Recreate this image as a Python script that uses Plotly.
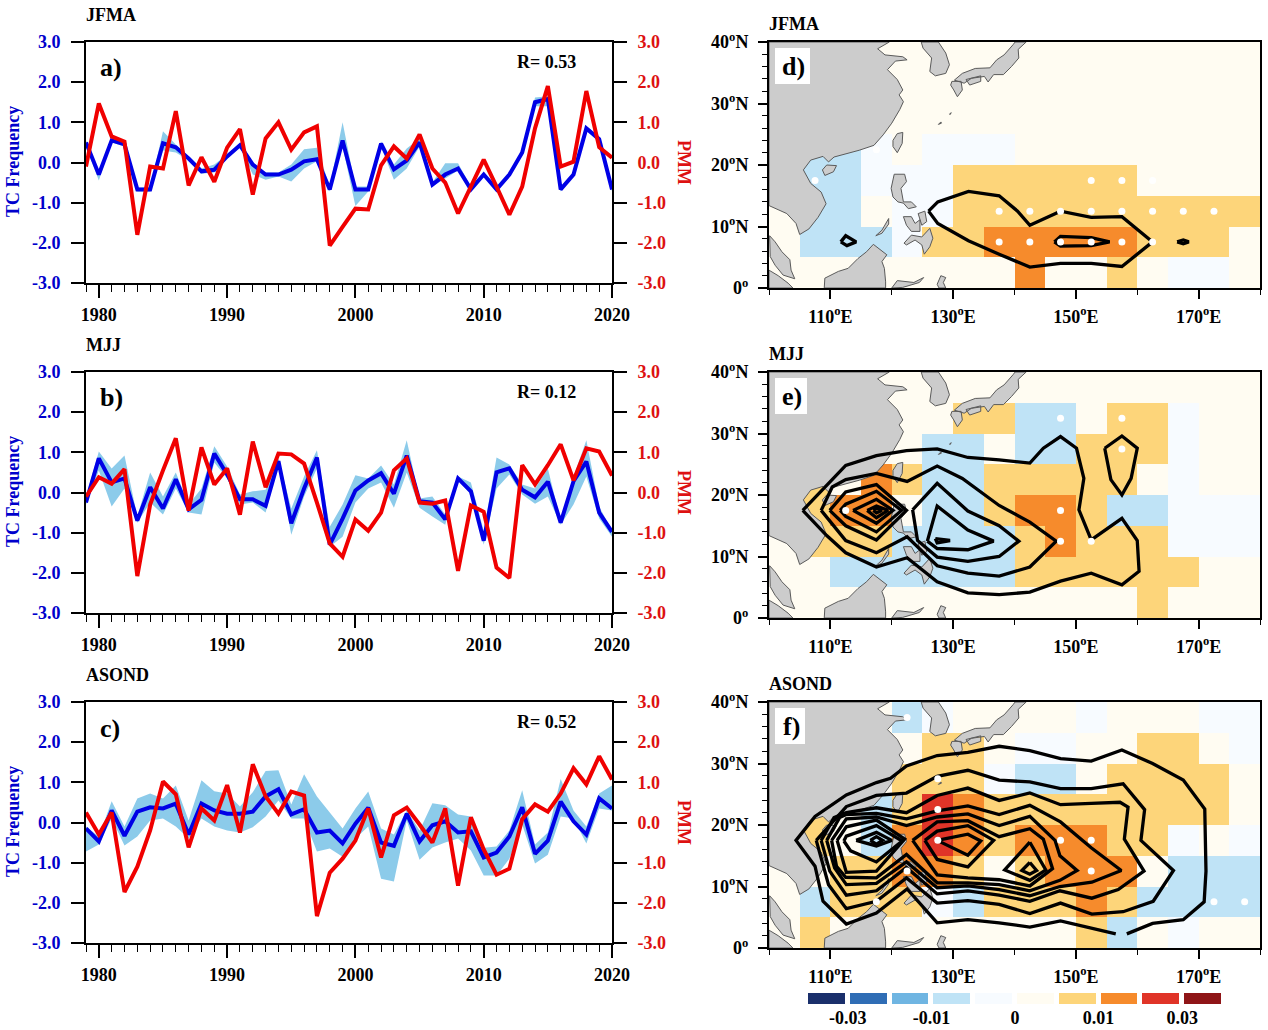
import plotly.graph_objects as go

W = 1268
H = 1030
FONT = "Liberation Serif"
BLUE_TXT = "#0000cc"
RED_TXT = "#dd1111"

YEARS = list(range(1979, 2021))
Y_TICKS = [-3, -2, -1, 0, 1, 2, 3]
Y_LABELS = ["-3.0", "-2.0", "-1.0", "0.0", "1.0", "2.0", "3.0"]
X_TICKS = [1980, 1990, 2000, 2010, 2020]

# time series
TC_A = [0.5, -0.3, 0.55, 0.45, -0.67, -0.67, 0.48, 0.38, 0.1, -0.22, -0.18, 0.15, 0.43, -0.05, -0.3, -0.3, -0.18, 0.03, 0.08, -0.67, 0.55,
        -0.67, -0.67, 0.47, -0.17, 0.05, 0.5, -0.55, -0.3, -0.15, -0.67, -0.3, -0.67, -0.3, 0.25, 1.5, 1.58, -0.67, -0.3, 0.85, 0.58, -0.67]
PMM_A = [-0.1, 1.47, 0.65, 0.52, -1.8, -0.1, -0.15, 1.28, -0.57, 0.13, -0.48, 0.37, 0.83, -0.8, 0.6, 1.0, 0.32, 0.75, 0.9, -2.07, -1.6,
         -1.15, -1.17, -0.07, 0.4, 0.1, 0.7, -0.15, -0.5, -1.27, -0.6, 0.07, -0.6, -1.3, -0.6, 0.85, 1.9, -0.1, 0.02, 1.78, 0.38, 0.12]
UPPER_A = [0.55, -0.2, 0.62, 0.5, -0.62, -0.62, 0.78, 0.45, 0.15, -0.15, -0.05, 0.2, 0.48, 0.0, -0.25, -0.25, -0.05, 0.33, 0.37, -0.6, 1.0,
           -0.6, -0.6, 0.52, -0.05, 0.35, 0.6, -0.5, -0.02, -0.02, -0.6, -0.25, -0.6, -0.25, 0.3, 1.62, 1.65, -0.6, -0.25, 0.9, 0.65, -0.6]
LOWER_A = [0.4, -0.45, 0.5, 0.4, -0.72, -0.72, 0.3, 0.25, 0.05, -0.28, -0.25, 0.1, 0.38, -0.3, -0.43, -0.35, -0.47, -0.15, 0.03, -0.72, 0.4,
           -1.08, -0.72, 0.4, -0.43, -0.15, 0.4, -0.6, -0.4, -0.2, -0.72, -0.35, -0.72, -0.35, 0.2, 1.4, 1.4, -0.72, -0.35, 0.8, 0.5, -0.72]

TC_B = [-0.25, 0.85, 0.25, 0.35, -0.7, 0.13, -0.4, 0.33, -0.42, -0.18, 0.97, 0.45, -0.17, -0.17, -0.33, 0.78, -0.77, 0.1, 0.87, -1.3, -0.65,
        0.05, 0.3, 0.48, -0.03, 0.92, -0.22, -0.25, -0.67, 0.35, 0.03, -1.2, 0.5, 0.6, 0.07, -0.12, 0.27, -0.75, 0.28, 0.77, -0.5, -0.98]
PMM_B = [-0.1, 0.38, 0.22, 0.58, -2.08, -0.3, 0.55, 1.35, -0.45, 1.12, 0.2, 0.6, -0.55, 1.27, 0.13, 0.97, 0.95, 0.72, -0.25, -1.27, -1.6,
         -0.67, -0.95, -0.5, 0.55, 0.85, -0.25, -0.28, -0.2, -1.95, -0.32, -0.48, -1.87, -2.13, 0.68, 0.2, 0.68, 1.2, 0.3, 1.1, 1.02, 0.42]
UPPER_B = [-0.1, 1.02, 0.6, 0.92, -0.6, 0.5, -0.1, 0.5, -0.3, 0.1, 1.15, 0.65, -0.05, 0.03, 0.07, 0.85, -0.4, 0.4, 1.05, -0.85, -0.3,
           0.43, 0.35, 0.67, 0.2, 1.3, -0.15, -0.1, -0.55, 0.4, 0.25, -0.95, 0.87, 0.7, 0.2, 0.1, 0.6, -0.7, 0.4, 1.3, -0.35, -0.95]
LOWER_B = [-0.3, 0.55, -0.35, 0.1, -0.75, -0.25, -0.55, 0.1, -0.5, -0.55, 0.75, 0.35, -0.3, -0.25, -0.5, 0.7, -1.05, -0.1, 0.6, -1.35, -1.1,
           -0.25, 0.1, 0.25, -0.38, 0.5, -0.38, -0.6, -0.8, 0.3, -0.05, -1.3, 0.1, 0.45, -0.05, -0.28, -0.1, -0.8, -0.3, 0.4, -0.65, -1.1]

TC_C = [-0.15, -0.47, 0.3, -0.33, 0.27, 0.38, 0.35, 0.47, -0.3, 0.47, 0.3, 0.22, 0.22, 0.27, 0.65, 0.83, 0.2, 0.33, -0.25, -0.2, -0.52,
        -0.03, 0.37, -0.5, -0.58, 0.22, -0.47, -0.07, 0.03, -0.25, -0.22, -0.87, -0.75, -0.35, 0.38, -0.78, -0.45, 0.52, 0.03, -0.3, 0.6, 0.35]
PMM_C = [0.25, -0.3, 0.25, -1.73, -1.1, -0.2, 1.02, 0.7, -0.62, 0.35, 0.05, 0.93, -0.25, 1.45, 0.65, 0.22, 0.77, 0.67, -2.33, -1.25, -0.9,
         -0.45, 0.35, -0.87, 0.18, 0.37, -0.05, -0.5, 0.35, -1.57, 0.13, -0.67, -1.3, -1.15, 0.08, 0.45, 0.27, 0.72, 1.35, 0.95, 1.65, 1.07]
UPPER_C = [-0.1, -0.35, 0.53, -0.1, 0.6, 0.72, 0.6, 0.92, 0.05, 1.05, 0.78, 0.72, 0.4, 0.75, 1.28, 1.3, 0.45, 1.2, 0.65, 0.25, -0.15,
           0.35, 0.77, -0.15, -0.3, 0.3, -0.2, 0.48, 0.43, 0.2, 0.15, -0.63, -0.6, -0.2, 0.8, -0.55, -0.25, 1.08, 0.3, -0.1, 0.72, 0.92]
LOWER_C = [-0.72, -0.55, 0.1, -0.57, -0.35, 0.05, 0.1, -0.1, -0.4, 0.1, -0.1, -0.2, -0.25, -0.12, 0.15, 0.55, 0.1, 0.1, -0.72, -0.65, -0.85,
           -0.4, -0.1, -1.4, -1.47, 0.05, -0.93, -0.62, -0.5, -0.4, -0.7, -1.32, -1.32, -0.9, -0.05, -1.02, -0.8, 0.15, 0.1, -0.52, 0.35, 0.3]

# map cells, 5 degree boxes
LONS = [102.5 + 5 * i for i in range(16)]
LATS = [2.5 + 5 * i for i in range(8)]

I = 0.0025
P = -0.0025
L = -0.0075
Y = 0.0075
O = 0.015
R = 0.025

CELLS_D = [
    [I, I, I, I, I, I, I, I, O, I, I, Y, I, P, P, I],
    [I, L, L, L, P, Y, Y, O, O, O, O, O, Y, Y, Y, I],
    [I, L, L, I, P, P, Y, Y, Y, Y, Y, Y, Y, Y, Y, Y],
    [I, L, L, P, P, P, Y, Y, Y, Y, Y, Y, I, I, I, I],
    [I, L, L, P, I, P, P, P, I, I, I, I, I, I, I, I],
    [I, I, I, I, I, I, I, I, I, I, I, I, I, I, I, I],
    [I, I, I, I, I, I, I, I, I, I, I, I, I, I, I, I],
    [I, I, I, I, I, I, I, I, I, I, I, I, I, I, I, I],
]
CELLS_E = [
    [I, I, I, I, I, I, I, I, I, I, I, I, Y, I, I, I],
    [I, I, L, L, L, L, L, L, Y, Y, Y, Y, Y, Y, I, I],
    [I, Y, Y, Y, L, L, L, L, Y, O, Y, Y, Y, P, P, P],
    [I, Y, O, O, I, L, L, Y, O, O, Y, L, L, P, P, P],
    [I, Y, I, O, Y, L, L, Y, Y, Y, Y, Y, I, P, I, I],
    [I, I, I, I, I, L, L, I, L, L, Y, Y, Y, P, I, I],
    [I, I, I, I, I, I, Y, Y, L, L, I, Y, Y, P, I, I],
    [I, I, I, I, I, I, I, I, I, I, I, I, I, I, I, I],
]
CELLS_F = [
    [I, Y, I, I, I, I, I, I, I, I, Y, L, I, P, I, I],
    [I, L, Y, Y, Y, P, L, Y, Y, Y, O, Y, L, L, L, L],
    [I, I, Y, Y, O, O, Y, I, Y, O, O, O, I, L, L, L],
    [I, Y, I, L, O, R, O, Y, O, O, O, Y, Y, P, I, P],
    [I, Y, I, L, Y, R, O, Y, Y, Y, Y, Y, Y, Y, Y, I],
    [I, I, I, I, Y, Y, Y, P, L, L, I, Y, Y, Y, Y, I],
    [I, I, I, I, I, Y, Y, I, P, P, I, I, Y, Y, I, P],
    [I, I, I, I, L, P, I, I, I, I, P, I, I, I, P, P],
]

LEVEL_BOUNDS = [-0.04, -0.03, -0.02, -0.01, -0.005, 0, 0.005, 0.01, 0.02, 0.03, 0.04]
LEVEL_COLORS = ["#1a2f6b", "#2f6db5", "#6fb5e2", "#bfe3f6", "#f7fbff", "#fffcf2", "#fdd57a", "#f68b2c", "#e03428", "#8f1517"]
LEVEL_VALUES = [-0.035, -0.025, -0.015, -0.0075, -0.0025, 0.0025, 0.0075, 0.015, 0.025, 0.035]
BAR_LABELS = ["-0.03", "-0.01", "0", "0.01", "0.03"]

# significant boxes
DOTS_D = [(107.5, 17.5), (152.5, 17.5), (157.5, 17.5), (162.5, 17.5), (117.5, 22.5),
          (137.5, 12.5), (142.5, 12.5), (147.5, 12.5), (152.5, 12.5), (157.5, 12.5), (162.5, 12.5), (167.5, 12.5), (172.5, 12.5),
          (137.5, 7.5), (142.5, 7.5), (147.5, 7.5), (152.5, 7.5), (157.5, 7.5), (162.5, 7.5)]
DOTS_E = [(147.5, 32.5), (157.5, 32.5), (157.5, 27.5), (147.5, 17.5), (147.5, 12.5), (152.5, 12.5), (112.5, 17.5)]
DOTS_F = [(122.5, 37.5), (127.5, 27.5), (127.5, 22.5), (127.5, 17.5), (147.5, 17.5), (152.5, 17.5), (152.5, 12.5),
          (122.5, 12.5), (117.5, 7.5), (172.5, 7.5), (177.5, 7.5)]

# contour lines as lon, lat vertices
CONTOURS_D = [
    [(126, 12.5), (127.5, 14), (132.5, 15.7), (137.5, 15), (140.5, 12.5), (142.5, 10.2), (147.5, 12.5), (152.5, 11.5), (157.5, 11.6),
     (162.5, 7.5), (157.5, 3.5), (152.5, 4), (147.5, 4), (142.5, 3.4), (137.5, 5.5), (132.5, 7.7), (127.5, 10.5), (126, 12.5)],
    [(146.5, 7.5), (147.5, 8.4), (152.5, 8.2), (155.5, 7.5), (152.5, 6.9), (147.5, 6.8), (146.5, 7.5)],
    [(111.7, 7.5), (112.5, 8.5), (114.2, 7.5), (112.7, 6.9), (111.7, 7.5)],
    [(166.5, 7.5), (167.5, 7.8), (168.4, 7.5), (167.5, 7.2), (166.5, 7.5)],
]
CONTOURS_E = [
    [(105.5, 17.5), (109.4, 21.6), (112.5, 24.8), (117.5, 26.4), (122.4, 27.2), (127.4, 27.5), (132.4, 26.1), (137.5, 25.7), (142.5, 25.2),
     (144.7, 27.6), (147.5, 29.5), (150.1, 27.6), (151.3, 22.7), (150.5, 17.6), (152.5, 12.7), (157.5, 16.2), (160, 12.6), (160.3, 7.6),
     (157.5, 5.4), (152.5, 7.3), (147.5, 6), (142.5, 4.2), (137.5, 3.8), (132.4, 4.1), (127.4, 5.9), (122.5, 9.8), (117.5, 8.3),
     (112.5, 10.6), (109.4, 13.4), (105.5, 17.5)],
    [(108.5, 17.5), (110.3, 21.3), (112.5, 22.5), (117.5, 23.5), (122.5, 22.2), (127.4, 24.7), (131.5, 22.7), (137.5, 18.3), (142.5, 15.6),
     (146.8, 12.5), (142.5, 8.3), (140, 7.5), (137.5, 6.8), (132.4, 7.3), (127.4, 8.5), (122.5, 13.2), (117.5, 10.6), (112.5, 12.6), (108.5, 17.5)],
    [(123.4, 17.6), (127.4, 21.9), (132.4, 17.4), (137.5, 15), (140.7, 12.5), (137.5, 10), (132.4, 9.2), (127.4, 9.9), (124.2, 12.6), (123.4, 17.6)],
    [(125.8, 12.5), (127.4, 18.2), (132.4, 14.3), (136.6, 12.5), (132.4, 11.1), (127.4, 11.3), (125.8, 12.5)],
    [(127.1, 12.9), (129.5, 12.6), (127.4, 12.2), (127.1, 12.9)],
    [(109.9, 17.5), (112.5, 20.5), (117.5, 21.7), (122.4, 17.5), (117.5, 12.7), (112.5, 15), (109.9, 17.5)],
    [(111.6, 17.5), (112.5, 18.5), (117.5, 20.6), (121.6, 17.5), (117.5, 14), (112.5, 16.5), (111.6, 17.5)],
    [(113.7, 17.5), (117.5, 19.3), (120.2, 17.5), (117.5, 15.4), (113.7, 17.5)],
    [(116, 17.5), (117.5, 18.2), (119.4, 17.5), (117.5, 16.3), (116, 17.5)],
    [(117, 17.5), (117.5, 17.8), (118.4, 17.5), (117.5, 17.1), (117, 17.5)],
    [(154.7, 27.6), (157.5, 29.6), (160, 27.6), (159, 22.7), (157.5, 20), (155.7, 22.5), (154.7, 27.6)],
]
CONTOURS_F = [
    [(158.3, 2.3), (162.5, 4), (167.5, 4.6), (170.9, 7.5), (171.2, 12.5), (171, 22.6), (167.5, 27.3), (162.5, 30), (157.5, 32.2), (152.5, 30.4),
     (147.5, 30.8), (142.5, 32.1), (137.5, 32.8), (132.4, 31.8), (127.4, 31.3), (122.4, 29.6), (119.8, 27.6), (117.5, 26.9), (112.6, 24.9),
     (107.5, 21.4), (104.4, 17.5), (107.5, 13.3), (108.8, 7.6), (112.6, 3.9), (117.5, 5.7), (122.5, 9.6), (127.4, 4.1), (132.4, 4.6), (137.5, 4.1),
     (142.5, 3.4), (147.5, 4.4), (152.5, 3.2), (156.5, 2.3)],
    [(107.7, 17.5), (112.6, 23), (117.5, 24.8), (122.4, 25.2), (127.4, 27.9), (132.4, 28.9), (137.5, 27.3), (142.5, 27), (147.5, 25.9), (152.5, 25.9),
     (157.7, 26.7), (161.2, 22.5), (160.6, 17.5), (165.9, 12.6), (162.6, 7.6), (157.7, 5.9), (152.6, 5.5), (147.5, 7.3), (142.5, 5.6), (137.5, 7.1),
     (132.4, 7.7), (127.4, 7.3), (122.4, 11.4), (117.5, 7.6), (112.6, 6.4), (109.7, 10.3), (107.7, 17.5)],
    [(108.5, 17.5), (110.6, 21.2), (112.6, 22), (117.5, 22.8), (122.4, 22), (127.4, 24.8), (132.4, 26), (137.5, 24), (142.5, 25.2), (147.5, 23.3),
     (152.5, 23.5), (157.2, 23.7), (158.5, 22.9), (157.9, 17.7), (161.1, 12.5), (156.9, 9.5), (152.6, 8.1), (147.4, 9.3), (142.5, 7.6), (137.5, 8.6),
     (132.4, 9.3), (127.4, 8.8), (122.4, 13.1), (117.5, 9.3), (112.6, 8.6), (109.9, 12.5), (108.5, 17.5)],
    [(109.4, 17.5), (111.5, 21.2), (112.6, 21.7), (117.5, 21.9), (122.4, 21), (127.4, 22.3), (132.4, 23.1), (137.5, 21.7), (142.5, 23.2), (147.5, 20.5),
     (152.5, 16.3), (157.4, 12.6), (152.6, 10.7), (147.4, 10), (142.5, 8.5), (137.5, 9.5), (132.4, 10.1), (127.4, 9.8), (122.4, 14), (117.5, 10.5),
     (112.6, 10.3), (110.7, 13), (109.4, 17.5)],
    [(110.2, 17.5), (112.6, 21), (117.5, 21.3), (122.4, 19.9), (127.4, 21.3), (132.4, 21.8), (137.5, 19.9), (142.5, 21.4), (146.6, 17.5), (147.4, 15),
     (150.2, 12.6), (147.4, 11), (142.5, 9.3), (137.5, 10.3), (132.4, 10.6), (127.4, 10.6), (122.4, 15.2), (117.5, 11.4), (112.5, 11.5), (111, 13.3),
     (110.2, 17.5)],
    [(123.4, 17.5), (127.4, 20.5), (132.4, 20.7), (137.5, 18.1), (142.5, 19.4), (144.7, 17.7), (146.2, 12.9), (142.5, 10.1), (137.5, 11.1), (132.4, 11.4),
     (127.4, 11.9), (123.4, 17.5)],
    [(125.4, 17.5), (127.4, 19), (132.4, 19.9), (136.6, 17.5), (132.4, 13.2), (127.4, 14.4), (125.4, 17.5)],
    [(127.4, 17.5), (132.4, 18.5), (134.5, 17.4), (132.4, 15.1), (127.4, 17.5)],
    [(142.5, 17.2), (138.4, 12.7), (142.5, 11), (145.1, 12.7), (142.5, 17.2)],
    [(142.5, 13.9), (141.2, 12.6), (142.5, 12), (143.6, 12.6), (142.5, 13.9)],
    [(111.1, 17.5), (112.6, 19.7), (117.5, 20.8), (122.1, 17.7), (117.5, 12.5), (112.6, 12.3), (111.1, 17.5)],
    [(112.2, 17.4), (112.6, 18.2), (117.5, 19.9), (121.7, 17.4), (117.5, 14), (113.3, 15.8), (112.2, 17.4)],
    [(114.2, 17.5), (117.5, 18.8), (120, 17.5), (117.5, 16.6), (114.2, 17.5)],
    [(116.5, 17.5), (117.5, 18.1), (118.5, 17.5), (117.5, 16.9), (116.5, 17.5)],
]

# rough coastlines
LAND = [
    [(100, 40), (119.6, 40), (117.7, 38.9), (118.9, 37.9), (121.8, 37.6), (122.5, 37.1), (120.6, 36.9), (119.3, 35.5), (120.9, 33.9), (121.8, 32.2),
     (121.2, 31.4), (121.9, 30.3), (121.3, 29), (120, 26.8), (118.6, 24.9), (117.1, 23.2), (114.7, 22.4), (113, 21.9), (110.6, 21.3), (109.7, 20.5),
     (108.8, 21.4), (106.8, 20.8), (105.6, 19.2), (106.8, 17), (108.5, 15.6), (109.3, 13.7), (108, 11.5), (106.5, 9.6), (105, 8.7), (104.4, 10.5),
     (102.9, 12.1), (100, 13.4), (100, 40)],
    [(100.1, 8.5), (101, 7.5), (102.1, 5.9), (103.4, 4.6), (103.6, 2.9), (104.2, 1.5), (102.3, 2.1), (101, 3.7), (100.2, 5.1), (100.1, 8.5)],
    [(100, 2.9), (101.5, 2), (103.1, 0.8), (103.9, 0), (100, 0), (100, 2.9)],
    [(109, 0), (109.1, 1.6), (111.3, 2.7), (112.9, 3.2), (114.5, 4.8), (115.9, 5.9), (117, 7.1), (118.1, 6.2), (119.2, 5.4), (118.4, 4.3), (118.8, 3.2),
     (119, 1), (119, 0), (109, 0)],
    [(108.7, 19.2), (109.4, 20), (111, 19.9), (110.5, 18.9), (109.1, 18.3), (108.7, 19.2)],
    [(117.4, 8.5), (118.4, 9.4), (119.5, 11.3), (119.5, 10.4), (118.4, 8.9), (117.4, 8.5)],
    [(120.4, 18.5), (122.1, 18.5), (122.4, 17.3), (121.5, 16.2), (121.9, 14), (123.2, 14), (124, 13.2), (122.7, 12.9), (121.9, 13.8), (121, 14),
     (120.2, 14.8), (119.9, 16.2), (120.4, 18.5)],
    [(121.9, 11.6), (123.2, 11.6), (123.8, 10.5), (124.6, 11.1), (124.6, 9.2), (123.2, 9.2), (122.4, 10.2), (121.9, 11.6)],
    [(124.3, 12.1), (125.4, 12.5), (125.7, 10.8), (124.9, 10.2), (124.3, 12.1)],
    [(122, 7.3), (123.2, 8.6), (124.9, 8.3), (126.2, 9.7), (126.7, 8.1), (126.2, 6.7), (125.3, 5.5), (124.9, 7), (123.8, 7.8), (122.4, 7), (122, 7.3)],
    [(120, 0), (120.9, 1.2), (123.6, 0.9), (125.2, 1.7), (124.5, 0.9), (121.8, 0.1), (120, 0)],
    [(127.4, 0.6), (128, 2), (128.8, 1.7), (128.4, 0.9), (128.8, 0), (127.7, 0), (127.4, 0.6)],
    [(120.9, 25.1), (121.8, 25.3), (121.7, 23.5), (120.9, 22), (120.2, 23), (120.2, 24), (120.9, 25.1)],
    [(124.8, 40), (125.1, 39), (126.5, 37.4), (126.2, 35.2), (127.1, 34.5), (128.8, 34.9), (129.4, 36.3), (128.8, 38.2), (127.6, 40), (124.8, 40)],
    [(141.9, 40), (140.6, 38.8), (140.7, 37.4), (139.5, 36), (138.2, 34.7), (136.6, 34.7), (135.7, 33.5), (135.1, 34.4), (133, 34.1), (131.8, 33.3),
     (130.2, 33.8), (131.5, 34.9), (133.6, 35.7), (136, 35.8), (137.1, 37.1), (138.3, 37.9), (139.8, 39.6), (140.1, 40), (141.9, 40)],
    [(129.8, 33.6), (131.3, 33.6), (131.5, 32.2), (130.7, 31.1), (130.1, 32.2), (129.6, 33), (129.8, 33.6)],
    [(132.1, 33.9), (134.5, 34.5), (134.5, 33.6), (132.7, 33), (132.1, 33.9)],
    [(127.6, 26.6), (128, 27), (128.1, 26.8), (127.6, 26.6)],
    [(129.4, 28.3), (129.7, 28.5), (129.5, 28.2), (129.4, 28.3)],
]


def xdom(left, right):
    return [left / W, right / W]


def ydom(top, bottom):
    return [1 - bottom / H, 1 - top / H]


def join_paths(paths):
    xs = []
    ys = []
    for path in paths:
        xs += [p[0] for p in path] + [None]
        ys += [p[1] for p in path] + [None]
    return xs, ys


def note(text, x, y, size=18, color="black", anchor="left", angle=0):
    fig.add_annotation(text=f"<b>{text}</b>", x=x / W, y=1 - y / H, xref="paper", yref="paper", showarrow=False,
                       xanchor=anchor, yanchor="middle", textangle=angle, font=dict(family=FONT, size=size, color=color))


def level_scale():
    scale = []
    for i, col in enumerate(LEVEL_COLORS):
        scale.append([(LEVEL_BOUNDS[i] + 0.04) / 0.08, col])
        scale.append([(LEVEL_BOUNDS[i + 1] + 0.04) / 0.08, col])
    return scale


def add_series(n, top, title, letter, r_text, tc, pmm, upper, lower):
    xa = f"x{n}"
    ya = f"y{2 * n - 1}"
    yb = f"y{2 * n}"
    fig.add_trace(go.Scatter(x=YEARS + YEARS[::-1], y=upper + lower[::-1], fill="toself", fillcolor="#8ccbea", mode="none",
                             xaxis=xa, yaxis=ya))
    fig.add_trace(go.Scatter(x=YEARS, y=tc, mode="lines", line=dict(color="#0000e6", width=4), xaxis=xa, yaxis=ya))
    fig.add_trace(go.Scatter(x=YEARS, y=pmm, mode="lines", line=dict(color="#f00000", width=4), xaxis=xa, yaxis=yb))

    bottom = top + 241
    fig.update_layout({
        f"xaxis{n}": dict(domain=xdom(86, 612), range=[1979, 2020], anchor=ya, tickvals=X_TICKS, ticks="outside", ticklen=13, tickwidth=2,
                          tickcolor="black", showline=True, linecolor="black", linewidth=2, mirror=True, showgrid=False, zeroline=False,
                          ticklabelstandoff=1, tickfont=dict(family=FONT, size=18, color="black", weight="bold"),
                          minor=dict(dtick=1, tick0=1979, ticks="outside", ticklen=7, tickwidth=1, tickcolor="black", showgrid=False)),
        f"yaxis{2 * n - 1}": dict(domain=ydom(top, bottom), range=[-3, 3], anchor=xa, tickvals=Y_TICKS, ticktext=Y_LABELS, ticks="outside",
                                  ticklen=13, tickwidth=2, tickcolor="black", showline=True, linecolor="black", linewidth=2, showgrid=False,
                                  zeroline=False, ticklabelstandoff=7, tickfont=dict(family=FONT, size=18, color=BLUE_TXT, weight="bold")),
        f"yaxis{2 * n}": dict(overlaying=ya, side="right", range=[-3, 3], anchor=xa, tickvals=Y_TICKS, ticktext=Y_LABELS, ticks="outside",
                              ticklen=13, tickwidth=2, tickcolor="black", showline=True, linecolor="black", linewidth=2, showgrid=False,
                              zeroline=False, ticklabelstandoff=7, tickfont=dict(family=FONT, size=18, color=RED_TXT, weight="bold")),
    })
    note(title, 84, top - 27)
    note(letter, 98, top + 26, size=26)
    note(r_text, 515, top + 20)
    note("TC Frequency", 13, top + 120, color=BLUE_TXT, anchor="center", angle=-90)
    note("PMM", 684, top + 120, color=RED_TXT, anchor="center", angle=90)


def add_map(n, yn, top, title, letter, box_w, cells, paths, dots):
    xa = f"x{n}"
    ya = f"y{yn}"
    fig.add_trace(go.Heatmap(x=LONS, y=LATS, z=cells, colorscale=level_scale(), zmin=-0.04, zmax=0.04, showscale=False, xaxis=xa, yaxis=ya))
    land_x, land_y = join_paths(LAND)
    fig.add_trace(go.Scatter(x=land_x, y=land_y, mode="lines", fill="toself", fillcolor="#cccccc", line=dict(color="#5a5a5a", width=1),
                             xaxis=xa, yaxis=ya))
    line_x, line_y = join_paths(paths)
    fig.add_trace(go.Scatter(x=line_x, y=line_y, mode="lines", line=dict(color="black", width=3.3), xaxis=xa, yaxis=ya))
    fig.add_trace(go.Scatter(x=[d[0] for d in dots], y=[d[1] for d in dots], mode="markers", marker=dict(color="white", size=7),
                             xaxis=xa, yaxis=ya))

    bottom = top + 246
    fig.update_layout({
        f"xaxis{n}": dict(domain=xdom(769, 1260), range=[100, 180], anchor=ya, tickvals=[110, 130, 150, 170],
                          ticktext=["110<sup>o</sup>E", "130<sup>o</sup>E", "150<sup>o</sup>E", "170<sup>o</sup>E"], ticks="outside", ticklen=9,
                          tickwidth=2, tickcolor="black", showline=True, linecolor="black", linewidth=2, mirror=True, showgrid=False,
                          zeroline=False, ticklabelstandoff=2, tickfont=dict(family=FONT, size=18, color="black", weight="bold"),
                          minor=dict(dtick=10, tick0=100, ticks="outside", ticklen=5, tickwidth=1, tickcolor="black", showgrid=False)),
        f"yaxis{yn}": dict(domain=ydom(top, bottom), range=[0, 40], anchor=xa, tickvals=[0, 10, 20, 30, 40],
                           ticktext=["0<sup>o</sup>", "10<sup>o</sup>N", "20<sup>o</sup>N", "30<sup>o</sup>N", "40<sup>o</sup>N"], ticks="outside",
                           ticklen=9, tickwidth=2, tickcolor="black", showline=True, linecolor="black", linewidth=2, mirror=True, showgrid=False,
                           zeroline=False, ticklabelstandoff=6, tickfont=dict(family=FONT, size=18, color="black", weight="bold"),
                           minor=dict(dtick=2, tick0=0, ticks="outside", ticklen=5, tickwidth=1, tickcolor="black", showgrid=False)),
    })
    fig.add_shape(type="rect", xref="paper", yref="paper", x0=775 / W, x1=(775 + box_w) / W, y0=1 - (top + 42) / H, y1=1 - (top + 6) / H,
                  fillcolor="white", line=dict(width=0), layer="above")
    note(title, 767, top - 18)
    note(letter, 776 + box_w / 2, top + 24, size=26, anchor="center")


fig = go.Figure()

add_series(1, 42, "JFMA", "a)", "R= 0.53", TC_A, PMM_A, UPPER_A, LOWER_A)
add_series(2, 372, "MJJ", "b)", "R= 0.12", TC_B, PMM_B, UPPER_B, LOWER_B)
add_series(3, 702, "ASOND", "c)", "R= 0.52", TC_C, PMM_C, UPPER_C, LOWER_C)

add_map(4, 7, 42, "JFMA", "d)", 35, CELLS_D, CONTOURS_D, DOTS_D)
add_map(5, 8, 372, "MJJ", "e)", 32, CELLS_E, CONTOURS_E, DOTS_E)
add_map(6, 9, 702, "ASOND", "f)", 30, CELLS_F, CONTOURS_F, DOTS_F)

# colour key
fig.add_trace(go.Heatmap(x=list(range(10)), y=[0], z=[LEVEL_VALUES], colorscale=level_scale(), zmin=-0.04, zmax=0.04, showscale=False,
                         xgap=5, xaxis="x7", yaxis="y10"))
fig.update_layout(
    xaxis7=dict(domain=xdom(806, 1224), range=[-0.5, 9.5], anchor="y10", tickvals=[0.5, 2.5, 4.5, 6.5, 8.5], ticktext=BAR_LABELS, ticks="",
                showline=False, showgrid=False, zeroline=False, ticklabelstandoff=1,
                tickfont=dict(family=FONT, size=18, color="black", weight="bold")),
    yaxis10=dict(domain=ydom(993, 1004), range=[-0.5, 0.5], anchor="x7", visible=False),
)

fig.update_layout(template="none", width=W, height=H, margin=dict(l=0, r=0, t=0, b=0), paper_bgcolor="white", plot_bgcolor="white",
                  showlegend=False, hovermode=False, font=dict(family=FONT, size=18))

fig.write_html("out.html", config={"displayModeBar": False},
               post_script="document.body.style.margin='0';document.body.style.overflow='hidden';")
